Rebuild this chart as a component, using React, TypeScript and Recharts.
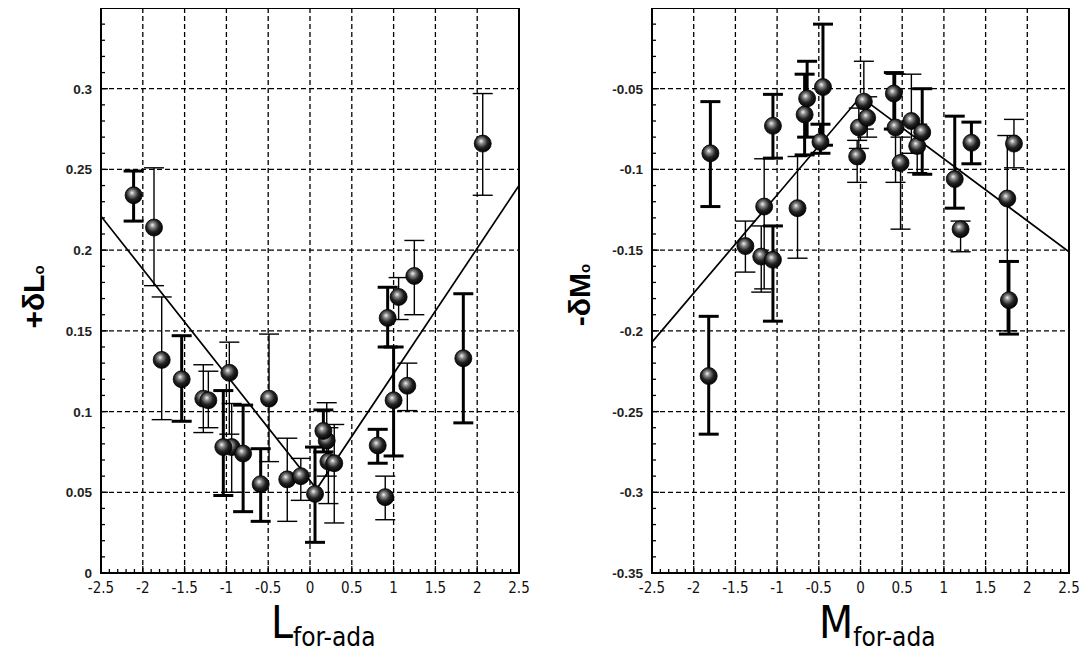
import React from 'react';
import { ComposedChart, Scatter, XAxis, YAxis, ErrorBar, ReferenceLine, ReferenceArea } from 'recharts';

// axis ticks (both panels share the x axis)
const xMajor = [-2.5, -2, -1.5, -1, -0.5, 0, 0.5, 1, 1.5, 2, 2.5];
const xLabels = ['-2.5', '-2', '-1.5', '-1', '-0.5', '0', '0.5', '1', '1.5', '2', '2.5'];
const yMajorL = [0, 0.05, 0.1, 0.15, 0.2, 0.25, 0.3];
const yLabelsL = ['0', '0.05', '0.1', '0.15', '0.2', '0.25', '0.3'];
const yMajorR = [-0.35, -0.3, -0.25, -0.2, -0.15, -0.1, -0.05];
const yLabelsR = ['-0.35', '-0.3', '-0.25', '-0.2', '-0.15', '-0.1', '-0.05'];

// points as [x, y, low, high]
const leftThin = [
  [-1.866, 0.214, 0.178, 0.251],
  [-1.774, 0.132, 0.095, 0.171],
  [-1.276, 0.108, 0.087, 0.129],
  [-1.216, 0.107, 0.09, 0.125],
  [-0.965, 0.124, 0.086, 0.143],
  [-0.937, 0.078, 0.05, 0.105],
  [-0.49, 0.108, 0.069, 0.148],
  [-0.272, 0.058, 0.032, 0.0835],
  [-0.11, 0.06, 0.045, 0.071],
  [0.2, 0.082, 0.06, 0.1055],
  [0.22, 0.069, 0.043, 0.09],
  [0.29, 0.068, 0.031, 0.092],
  [0.9, 0.047, 0.033, 0.06],
  [1.06, 0.171, 0.157, 0.183],
  [1.164, 0.116, 0.1006, 0.13],
  [1.248, 0.184, 0.16, 0.206],
  [2.066, 0.266, 0.234, 0.297],
];
const leftThick = [
  [-2.11, 0.234, 0.218, 0.249],
  [-1.535, 0.12, 0.094, 0.147],
  [-1.037, 0.078, 0.048, 0.113],
  [-0.8, 0.074, 0.038, 0.104],
  [-0.59, 0.055, 0.032, 0.077],
  [0.06, 0.049, 0.019, 0.078],
  [0.16, 0.088, 0.075, 0.101],
  [0.81, 0.079, 0.068, 0.089],
  [0.929, 0.158, 0.14, 0.177],
  [1.0, 0.107, 0.0725, 0.14],
  [1.834, 0.133, 0.093, 0.173],
];
const rightThin = [
  [-1.38, -0.1475, -0.1636, -0.132],
  [-1.19, -0.154, -0.176, -0.135],
  [-1.155, -0.123, -0.174, -0.0934],
  [-0.755, -0.124, -0.155, -0.092],
  [-0.04, -0.092, -0.108, -0.082],
  [-0.02, -0.074, -0.087, -0.062],
  [0.04, -0.058, -0.075, -0.033],
  [0.08, -0.068, -0.08, -0.055],
  [0.42, -0.074, -0.108, -0.041],
  [0.48, -0.096, -0.137, -0.08],
  [0.61, -0.07, -0.09, -0.041],
  [0.68, -0.0855, -0.102, -0.072],
  [1.2, -0.137, -0.151, -0.132],
  [1.76, -0.118, -0.2, -0.079],
  [1.84, -0.084, -0.099, -0.069],
];
const rightThick = [
  [-1.82, -0.228, -0.264, -0.191],
  [-1.8, -0.09, -0.123, -0.058],
  [-1.05, -0.073, -0.093, -0.0535],
  [-1.05, -0.156, -0.194, -0.135],
  [-0.67, -0.066, -0.091, -0.041],
  [-0.64, -0.056, -0.08, -0.033],
  [-0.48, -0.083, -0.09, -0.072],
  [-0.45, -0.049, -0.085, -0.01],
  [0.4, -0.053, -0.075, -0.04],
  [0.74, -0.077, -0.103, -0.05],
  [1.13, -0.106, -0.124, -0.067],
  [1.33, -0.0835, -0.0965, -0.0707],
  [1.78, -0.181, -0.202, -0.157],
];

// fitted lines
const leftFit = [[-2.5, 0.221], [0.08, 0.052], [2.5, 0.24]];
const rightFit = [[-2.5, -0.207], [0, -0.055], [2.5, -0.151]];

const toPts = (rows: number[][]) => rows.map(([x, y, lo, hi]) => ({ x, y, err: [y - lo, hi - y] }));
const toLine = (rows: number[][]) => rows.map(([x, y]) => ({ x, y }));

const steps = (from: number, to: number, div: number) => {
  const out: number[] = [];
  for (let i = from; i <= to; i++) out.push(i / div);
  return out;
};
const xMinor = steps(-25, 25, 10);

const near = (a: number, b: number) => Math.abs(a - b) < 1e-6;
const NARROW = "'Liberation Sans Narrow', 'DejaVu Sans Condensed', 'Liberation Sans', Arial, sans-serif";

const XTick = (props: any) => {
  const { x, y, payload } = props;
  const idx = xMajor.findIndex((m) => near(m, payload.value));
  return (
    <g>
      <line x1={x} x2={x} y1={y} y2={y - (idx >= 0 ? 7 : 4)} stroke="#000" strokeWidth={1.3} />
      {idx >= 0 && (
        <text x={x} y={y + 20} textAnchor="middle" fontFamily={NARROW} fontSize={15} fontStretch="condensed" fill="#111">
          {xLabels[idx]}
        </text>
      )}
    </g>
  );
};

const makeYTick = (major: number[], labels: string[]) => (props: any) => {
  const { x, y, payload } = props;
  const idx = major.findIndex((m) => near(m, payload.value));
  return (
    <g>
      <line x1={x} x2={x + (idx >= 0 ? 7 : 4)} y1={y} y2={y} stroke="#000" strokeWidth={1.3} />
      {idx >= 0 && (
        <text x={x - 9} y={y + 5} textAnchor="end" fontFamily="'Liberation Sans', Arial, sans-serif" fontWeight="bold" fontSize={13.5} fill="#222">
          {labels[idx]}
        </text>
      )}
    </g>
  );
};

const Ball = (props: any) => {
  const { cx, cy } = props;
  if (cx == null || cy == null) return <g />;
  return <circle cx={cx} cy={cy} r={8.5} fill="url(#ballGrad)" stroke="#000" strokeWidth={0.8} />;
};
const Nothing = () => <g />;

type PanelProps = {
  left: number;
  yWidth: number;
  rightMargin: number;
  yDomain: [number, number];
  yMajor: number[];
  yLabels: string[];
  yMinor: number[];
  thin: number[][];
  thick: number[][];
  fit: number[][];
};

const Panel = ({ left, yWidth, rightMargin, yDomain, yMajor, yLabels, yMinor, thin, thick, fit }: PanelProps) => {
  const YTick = makeYTick(yMajor, yLabels);
  return (
    <div style={{ position: 'absolute', left, top: 0 }}>
      <ComposedChart width={540} height={659} margin={{ top: 8, right: rightMargin, left: 0, bottom: 0 }}>
        <XAxis
          dataKey="x"
          type="number"
          domain={[-2.5, 2.5]}
          allowDataOverflow
          ticks={xMinor}
          interval={0}
          tickSize={0}
          tickMargin={0}
          tickLine={false}
          axisLine={false}
          tick={<XTick />}
          height={86}
        />
        <YAxis
          dataKey="y"
          type="number"
          domain={yDomain}
          allowDataOverflow
          ticks={yMinor}
          interval={0}
          tickSize={0}
          tickMargin={0}
          tickLine={false}
          axisLine={false}
          tick={<YTick />}
          width={yWidth}
        />
        {xMajor.slice(1, -1).map((v) => (
          <ReferenceLine key={'gx' + v} x={v} stroke="#000" strokeWidth={1.3} strokeDasharray="5 3" />
        ))}
        {yMajor.filter((v) => !near(v, yDomain[0]) && !near(v, yDomain[1])).map((v) => (
          <ReferenceLine key={'gy' + v} y={v} stroke="#000" strokeWidth={1.3} strokeDasharray="5 3" />
        ))}
        <ReferenceArea x1={-2.5} x2={2.5} y1={yDomain[0]} y2={yDomain[1]} fill="none" fillOpacity={0} stroke="#000" strokeWidth={2} />
        <Scatter data={toLine(fit)} dataKey="y" line={{ stroke: '#000', strokeWidth: 1.7 }} shape={<Nothing />} isAnimationActive={false} />
        <Scatter data={toPts(thin)} dataKey="y" shape={<Ball />} isAnimationActive={false}>
          <ErrorBar dataKey="err" direction="y" width={10} stroke="#000" strokeWidth={1.4} isAnimationActive={false} />
        </Scatter>
        <Scatter data={toPts(thick)} dataKey="y" shape={<Ball />} isAnimationActive={false}>
          <ErrorBar dataKey="err" direction="y" width={10} stroke="#000" strokeWidth={3} isAnimationActive={false} />
        </Scatter>
      </ComposedChart>
    </div>
  );
};

export default function App() {
  return (
    <div style={{ position: 'relative', width: 1092, height: 659, margin: -8, background: '#fff', overflow: 'hidden' }}>
      <svg width={0} height={0} style={{ position: 'absolute' }}>
        <defs>
          <radialGradient id="ballGrad" cx="0.45" cy="0.42" r="0.6" fx="0.4" fy="0.35">
            <stop offset="0" stopColor="#f4f4f4" />
            <stop offset="0.25" stopColor="#8a8a8a" />
            <stop offset="0.6" stopColor="#222" />
            <stop offset="1" stopColor="#000" />
          </radialGradient>
        </defs>
      </svg>
      <Panel
        left={0}
        yWidth={101}
        rightMargin={21}
        yDomain={[0, 0.35]}
        yMajor={yMajorL}
        yLabels={yLabelsL}
        yMinor={steps(0, 35, 100)}
        thin={leftThin}
        thick={leftThick}
        fit={leftFit}
      />
      <Panel
        left={545}
        yWidth={107}
        rightMargin={16}
        yDomain={[-0.35, 0]}
        yMajor={yMajorR}
        yLabels={yLabelsR}
        yMinor={steps(-35, 0, 100)}
        thin={rightThin}
        thick={rightThick}
        fit={rightFit}
      />
      <svg width={1092} height={659} style={{ position: 'absolute', left: 0, top: 0, pointerEvents: 'none' }}>
        <text transform="translate(44,297) rotate(-90)" textAnchor="middle" fontFamily="'Liberation Sans', Arial, sans-serif" fontWeight="bold" fontSize={30} fill="#000">
          +δL<tspan fontSize={15}>o</tspan>
        </text>
        <text transform="translate(590,295) rotate(-90)" textAnchor="middle" fontFamily="'Liberation Sans', Arial, sans-serif" fontWeight="bold" fontSize={30} fill="#000">
          -δM<tspan fontSize={15}>o</tspan>
        </text>
        <text x={271} y={638} fontFamily={NARROW} fontStretch="condensed" fontSize={44} fill="#000">
          L<tspan fontSize={26} dy={8}>for-ada</tspan>
        </text>
        <text x={819} y={638} fontFamily={NARROW} fontStretch="condensed" fontSize={44} fill="#000">
          M<tspan fontSize={26} dy={8}>for-ada</tspan>
        </text>
      </svg>
    </div>
  );
}
